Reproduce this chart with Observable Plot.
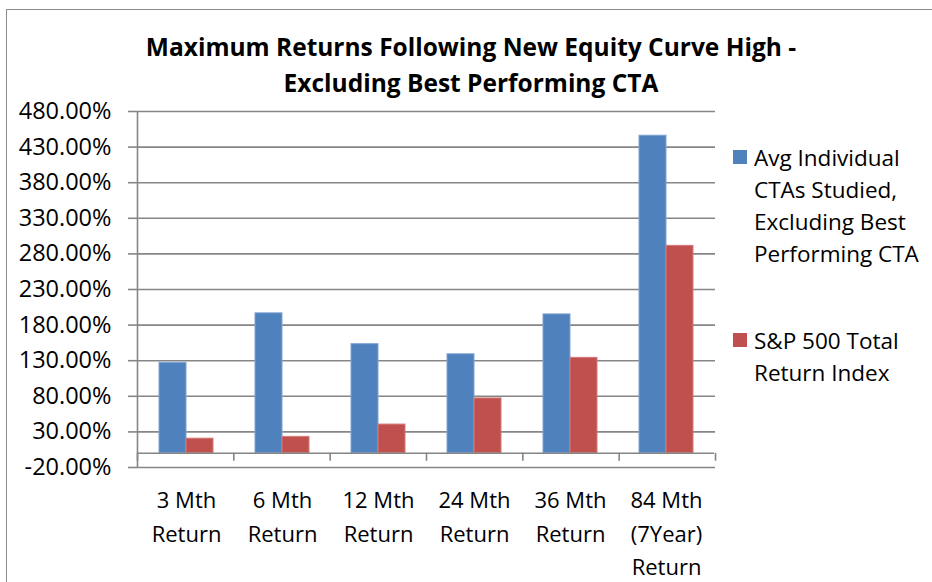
<!DOCTYPE html>
<html>
<head>
<meta charset="utf-8">
<script src="https://cdn.jsdelivr.net/npm/d3@7"></script>
<script src="https://cdn.jsdelivr.net/npm/@observablehq/plot@0.6"></script>
<style>
  html, body { margin: 0; padding: 0; background: #fff; }
  body { width: 932px; height: 582px; overflow: hidden; position: relative; font-family: "Open Sans", Lato, sans-serif; }
  #border { position: absolute; left: 6px; top: 9px; width: 940px; height: 600px; border: 1.5px solid #8c8c8c; box-sizing: border-box; }
  .layer { position: absolute; left: 0; top: 0; }
  #title { position: absolute; left: 0; width: 942px; top: 29px; text-align: center; font-weight: bold; font-size: 24.5px; line-height: 36px; color: #000; }
  .leg { position: absolute; left: 733px; }
  .sw { position: absolute; left: 0; width: 14px; height: 14px; }
  .lt { position: absolute; left: 21px; font-size: 22.5px; line-height: 32px; white-space: nowrap; color: #000; }
</style>
</head>
<body>
<div id="border"></div>
<div id="layerA" class="layer"></div>
<div id="layerB" class="layer"></div>
<div id="title">Maximum Returns Following New Equity Curve High -<br>Excluding Best Performing CTA</div>
<div id="legend"></div>
<script>
const categories = ["3 Mth\nReturn", "6 Mth\nReturn", "12 Mth\nReturn", "24 Mth\nReturn", "36 Mth\nReturn", "84 Mth\n(7Year)\nReturn"];
const seriesNames = ["Avg Individual CTAs Studied, Excluding Best Performing CTA", "S&P 500 Total Return Index"];
const legendLines = [["Avg Individual", "CTAs Studied,", "Excluding Best", "Performing CTA"], ["S&P 500 Total", "Return Index"]];
const ctaValues = [127, 196.5, 153.2, 139, 195, 446];
const spValues = [20.5, 23, 40.3, 77, 134, 291.3];
const yTicks = [-20, 30, 80, 130, 180, 230, 280, 330, 380, 430, 480];
const colors = ["#4F81BD", "#C0504D"];
const strokes = ["#7FA3D3", "#D27C7A"];

const data = [];
categories.forEach((c, i) => {
  data.push({cat: c, series: seriesNames[0], value: ctaValues[i]});
  data.push({cat: c, series: seriesNames[1], value: spValues[i]});
});

const W = 932, H = 582;
const M = {left: 137, right: 217, top: 111, bottom: 115};
const gridColor = "#868686";
const font = "'Open Sans', Lato, sans-serif";
const yOpts = {domain: [yTicks[0], yTicks[yTicks.length - 1]]};

// Layer A: gridlines, y axis, category boundary ticks
const layerA = Plot.plot({
  width: W, height: H,
  marginLeft: M.left, marginRight: M.right, marginTop: M.top, marginBottom: M.bottom,
  style: {background: "transparent", fontFamily: font, fontSize: "20px", color: "#000", overflow: "visible"},
  x: {type: "linear", domain: [0, categories.length], axis: null},
  y: {...yOpts, axis: null},
  marks: [
    Plot.ruleY(yTicks, {stroke: gridColor, strokeWidth: 1.6}),
    Plot.axisY({ticks: yTicks, tickFormat: d => d.toFixed(2) + "%", tickSize: 9, tickPadding: 17,
      stroke: gridColor, strokeWidth: 1.6, fontSize: 23.5, fill: "#000", label: null}),
    Plot.ruleX([0], {y1: yTicks[0], y2: yTicks[yTicks.length - 1], stroke: gridColor, strokeWidth: 1.6}),
    Plot.ruleX(d3.range(categories.length + 1), {y1: 0, y2: 0, insetBottom: -8, stroke: gridColor, strokeWidth: 1.6})
  ]
});
document.getElementById("layerA").appendChild(layerA);

// Layer B: bars in category facets
const layerB = Plot.plot({
  width: W, height: H,
  marginLeft: M.left, marginRight: M.right, marginTop: M.top, marginBottom: M.bottom,
  style: {background: "transparent", fontFamily: font, fontSize: "22px", color: "#000", overflow: "visible"},
  fx: {domain: categories, padding: 0, axis: null},
  x: {domain: seriesNames, paddingInner: 0, paddingOuter: 0.75, axis: null},
  y: {...yOpts, axis: null},
  color: {domain: seriesNames, range: colors},
  marks: [
    Plot.barY(data, {fx: "cat", x: "series", y: "value", fill: "series",
      stroke: d => strokes[seriesNames.indexOf(d.series)], strokeWidth: 1}),
    Plot.ruleY([0], {stroke: gridColor, strokeWidth: 1.6}),
    Plot.axisFx({anchor: "bottom", tickSize: 0, tickPadding: 17, fontSize: 22, lineHeight: 1.52, fill: "#000", label: null})
  ]
});
document.getElementById("layerB").appendChild(layerB);

// Legend
const legend = document.getElementById("legend");
const legTops = [142, 325];
legendLines.forEach((lines, k) => {
  const g = document.createElement("div");
  g.className = "leg";
  g.style.top = legTops[k] + "px";
  const sw = document.createElement("div");
  sw.className = "sw";
  sw.style.background = colors[k];
  sw.style.top = "8px";
  g.appendChild(sw);
  lines.forEach((t, j) => {
    const d = document.createElement("div");
    d.className = "lt";
    d.style.top = (j * 32) + "px";
    d.textContent = t;
    g.appendChild(d);
  });
  legend.appendChild(g);
});
</script>
</body>
</html>
